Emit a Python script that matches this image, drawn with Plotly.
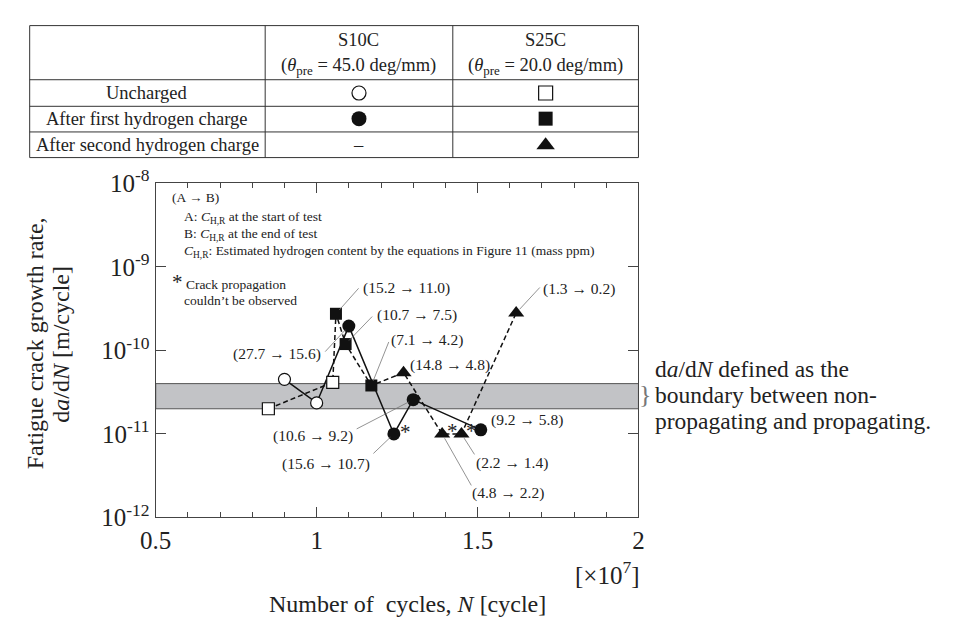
import numpy as np
import plotly.graph_objects as go

W, H = 964, 635

# ---------------- data (N in units of 1e7 cycles, da/dN in m/cycle) ----------------
s10c_unch_x = [0.90, 1.00]
s10c_unch_y = [4.5e-11, 2.35e-11]
s10c_h1_x = [1.10, 1.24, 1.30, 1.51]
s10c_h1_y = [1.95e-10, 1.0e-11, 2.57e-11, 1.12e-11]
s10c_h1_labels = ["(27.7 → 15.6)", "(15.6 → 10.7)", "(10.6 → 9.2)", "(9.2 → 5.8)"]

s25c_unch_x = [0.85, 1.05]
s25c_unch_y = [2.0e-11, 4.15e-11]
s25c_h1_x = [1.06, 1.09, 1.17]
s25c_h1_y = [2.74e-10, 1.19e-10, 3.8e-11]
s25c_h1_labels = ["(15.2 → 11.0)", "(10.7 → 7.5)", "(7.1 → 4.2)"]
s25c_h2_x = [1.27, 1.39, 1.45, 1.62]
s25c_h2_y = [5.4e-11, 1.0e-11, 1.0e-11, 2.8e-10]
s25c_h2_labels = ["(14.8 → 4.8)", "(4.8 → 2.2)", "(2.2 → 1.4)", "(1.3 → 0.2)"]

# points where crack propagation couldn't be observed (series, index)
no_prop = [("s10c_h1", 1), ("s25c_h2", 1), ("s25c_h2", 2)]

band = [2e-11, 4e-11]
y_ticks = [1e-12, 1e-11, 1e-10, 1e-9, 1e-8]
y_ticktext = ["10<sup>-12</sup>", "10<sup>-11</sup>", "10<sup>-10</sup>", "10<sup>-9</sup>", "10<sup>-8</sup>"]

table_cols = ["S10C", "S25C"]
table_theta = ["(<i>θ</i><sub>pre</sub> = 45.0 deg/mm)", "(<i>θ</i><sub>pre</sub> = 20.0 deg/mm)"]
table_rows = ["Uncharged", "After first hydrogen charge", "After second hydrogen charge"]

series = {
    "s10c_unch": (s10c_unch_x, s10c_unch_y),
    "s10c_h1": (s10c_h1_x, s10c_h1_y),
    "s25c_unch": (s25c_unch_x, s25c_unch_y),
    "s25c_h1": (s25c_h1_x, s25c_h1_y),
    "s25c_h2": (s25c_h2_x, s25c_h2_y),
}

# ---------------- style / layout ----------------
FONT = "Liberation Serif"
INK = "#222222"
AX = "#444444"
PLOT_L, PLOT_R, PLOT_T, PLOT_B = 143, 637, 174, 526

fig = go.Figure()

# connecting lines
fig.add_trace(go.Scatter(x=s10c_unch_x + s10c_h1_x, y=s10c_unch_y + s10c_h1_y, mode="lines",
                         line=dict(color="#111", width=1.5), hoverinfo="skip"))
fig.add_trace(go.Scatter(x=s25c_unch_x + s25c_h1_x + s25c_h2_x,
                         y=s25c_unch_y + s25c_h1_y + s25c_h2_y, mode="lines",
                         line=dict(color="#111", width=1.5, dash="5px,3px"), hoverinfo="skip"))

marker_styles = {
    "s10c_unch": dict(symbol="circle", size=12, color="white", line=dict(color="#111", width=1.2)),
    "s10c_h1": dict(symbol="circle", size=13, color="#111", line=dict(color="#111", width=0)),
    "s25c_unch": dict(symbol="square", size=12, color="white", line=dict(color="#111", width=1.2)),
    "s25c_h1": dict(symbol="square", size=12, color="#111", line=dict(color="#111", width=0)),
    "s25c_h2": dict(symbol="triangle-up", size=14, color="#111", line=dict(color="#111", width=0)),
}
for key, (xs, ys) in series.items():
    fig.add_trace(go.Scatter(x=xs, y=ys, mode="markers", marker=marker_styles[key], hoverinfo="skip"))

# band
fig.add_shape(type="rect", xref="x domain", yref="y", x0=0, x1=1, y0=band[0], y1=band[1],
              fillcolor="#c2c3c6", line=dict(color="#555", width=1), layer="below")

ann = []
# label placements: (arrow dx, arrow dy, text xshift, text yshift, xanchor); None => no leader
label_pos = {
    "s10c_h1": [(-25, 27, -26, -28, "right"), (-22, 21, -22, -30, "right"),
                (-58, 30, -58, -36, "right"), (None, None, 8, 10, "left")],
    "s25c_h1": [(24, -27, 25, 26, "left"), (28, -29, 29, 29, "left"), (18, -45, 18, 45, "left")],
    "s25c_h2": [(None, None, 4, 8, "left"), (30, 53, 28, -59, "left"),
                (14, 22, 13, -29, "left"), (25, -27, 25, 24, "left")],
}
label_text = {"s10c_h1": s10c_h1_labels, "s25c_h1": s25c_h1_labels, "s25c_h2": s25c_h2_labels}
for key, labs in label_text.items():
    xs, ys = series[key]
    for i, lab in enumerate(labs):
        adx, ady, tx, ty, anc = label_pos[key][i]
        ly = float(np.log10(ys[i]))
        if adx is not None:
            ann.append(dict(x=xs[i], y=ly, xref="x", yref="y", text="", showarrow=True,
                            ax=adx, ay=ady, arrowhead=0, arrowwidth=0.8, arrowcolor="#777",
                            standoff=5))
        ann.append(dict(x=xs[i], y=ly, xref="x", yref="y", text=lab, showarrow=False,
                        xanchor=anc, yanchor="middle", xshift=tx, yshift=ty,
                        font=dict(family=FONT, size=15.5, color=INK)))

star_shift = [(12, 2), (10, 3), (10, 3)]
for (key, i), (sx, sy) in zip(no_prop, star_shift):
    xs, ys = series[key]
    ann.append(dict(x=xs[i], y=float(np.log10(ys[i])), xref="x", yref="y", text="*",
                    showarrow=False, xanchor="center", yanchor="middle", xshift=sx, yshift=sy,
                    font=dict(family=FONT, size=21, color=INK)))

# notes inside plot (pixel coords via full-page axes x2/y2)
notes = [
    (158, 189, "(A → B)"),
    (170, 210, "A: <i>C</i><sub>H,R</sub> at the start of test"),
    (170, 228, "B: <i>C</i><sub>H,R</sub> at the end of test"),
    (170, 246, "<i>C</i><sub>H,R</sub>: Estimated hydrogen content by the equations in Figure 11 (mass ppm)"),
    (158, 278, "<span style='font-size:21px'>*</span> Crack propagation"),
    (170, 297, "couldn’t be observed"),
]
for nx, ny, t in notes:
    ann.append(dict(x=nx, y=ny, xref="x2", yref="y2", text=t, showarrow=False,
                    xanchor="left", yanchor="middle", font=dict(family=FONT, size=13.5, color=INK)))

# axis titles / extras
ann.append(dict(x=19, y=343, xref="x2", yref="y2", text="Fatigue crack growth rate,", textangle=-90,
                showarrow=False, xanchor="center", yanchor="middle",
                font=dict(family=FONT, size=24, color=INK)))
ann.append(dict(x=46, y=343, xref="x2", yref="y2", text="d<i>a</i>/d<i>N</i> [m/cycle]", textangle=-90,
                showarrow=False, xanchor="center", yanchor="middle",
                font=dict(family=FONT, size=24, color=INK)))
ann.append(dict(x=401, y=617, xref="x2", yref="y2", text="Number of  cycles, <i>N</i> [cycle]",
                showarrow=False, xanchor="center", yanchor="middle",
                font=dict(family=FONT, size=24, color=INK)))
ann.append(dict(x=605, y=584, xref="x2", yref="y2", text="[×10<sup>7</sup>]",
                showarrow=False, xanchor="center", yanchor="middle",
                font=dict(family=FONT, size=25, color=INK)))
right_lines = ["d<i>a</i>/d<i>N</i> defined as the", "boundary between non-", "propagating and propagating."]
for k, t in enumerate(right_lines):
    ann.append(dict(x=652, y=370 + 27 * k, xref="x2", yref="y2", text=t, showarrow=False,
                    xanchor="left", yanchor="middle", font=dict(family=FONT, size=23.5, color=INK)))
# bracket
ann.append(dict(x=644, y=397, xref="x2", yref="y2", text="}", showarrow=False,
                xanchor="center", yanchor="middle", font=dict(family=FONT, size=26, color="#777")))

# ---------------- table ----------------
T_L, T_R = 14, 637
col_edges = [14, 255, 447, 637]
row_edges = [8, 65, 93, 120, 147]
col_cx = [351, 542]
row_cy = [79, 106, 134]
for yy in row_edges:
    fig.add_shape(type="line", xref="x2", yref="y2", x0=T_L, x1=T_R, y0=yy, y1=yy,
                  line=dict(color="#333", width=1))
for xx in col_edges:
    fig.add_shape(type="line", xref="x2", yref="y2", x0=xx, x1=xx, y0=row_edges[0], y1=row_edges[-1],
                  line=dict(color="#333", width=1))
for c, (name, th) in enumerate(zip(table_cols, table_theta)):
    ann.append(dict(x=col_cx[c], y=23, xref="x2", yref="y2", text=name, showarrow=False,
                    font=dict(family=FONT, size=18.5, color=INK)))
    ann.append(dict(x=col_cx[c], y=51, xref="x2", yref="y2", text=th, showarrow=False,
                    font=dict(family=FONT, size=18.5, color=INK)))
for r, name in enumerate(table_rows):
    ann.append(dict(x=(col_edges[0] + col_edges[1]) / 2, y=row_cy[r], xref="x2", yref="y2", text=name,
                    showarrow=False, font=dict(family=FONT, size=18.5, color=INK)))
ann.append(dict(x=col_cx[0], y=row_cy[2], xref="x2", yref="y2", text="–", showarrow=False,
                font=dict(family=FONT, size=18.5, color=INK)))

table_symbols = [
    (0, 0, "s10c_unch"), (0, 1, "s10c_h1"),
    (1, 0, "s25c_unch"), (1, 1, "s25c_h1"), (1, 2, "s25c_h2"),
]
for c, r, key in table_symbols:
    ms = dict(marker_styles[key])
    ms["size"] = ms["size"] + 2
    fig.add_trace(go.Scatter(x=[col_cx[c]], y=[row_cy[r]], xaxis="x2", yaxis="y2", mode="markers",
                             marker=ms, hoverinfo="skip", cliponaxis=False))

fig.update_layout(
    width=W, height=H, margin=dict(l=0, r=0, t=0, b=0),
    paper_bgcolor="white", plot_bgcolor="rgba(0,0,0,0)", showlegend=False,
    annotations=ann,
    xaxis=dict(domain=[PLOT_L / W, PLOT_R / W], range=[0.5, 2.0], tickmode="linear", tick0=0.5, dtick=0.5,
               ticks="inside", ticklen=10, tickcolor=AX, tickwidth=1.2,
               minor=dict(dtick=0.1, tick0=0.5, ticks="inside", ticklen=5, tickcolor=AX, tickwidth=1.2),
               showline=True, linecolor=AX, linewidth=1.3, mirror="ticks", showgrid=False, zeroline=False,
               tickfont=dict(family=FONT, size=25, color=INK), anchor="y"),
    yaxis=dict(domain=[1 - PLOT_B / H, 1 - PLOT_T / H], type="log", range=[-12, -8],
               tickmode="array", tickvals=y_ticks, ticktext=y_ticktext,
               ticks="inside", ticklen=10, tickcolor=AX, tickwidth=1.2,
               showline=True, linecolor=AX, linewidth=1.3, mirror="ticks", showgrid=False, zeroline=False,
               tickfont=dict(family=FONT, size=25, color=INK), anchor="x"),
    xaxis2=dict(domain=[0, 1], range=[0, W], anchor="y2", visible=False, fixedrange=True),
    yaxis2=dict(domain=[0, 1], range=[H, 0], anchor="x2", visible=False, fixedrange=True),
)

fig.write_html("out.html")
